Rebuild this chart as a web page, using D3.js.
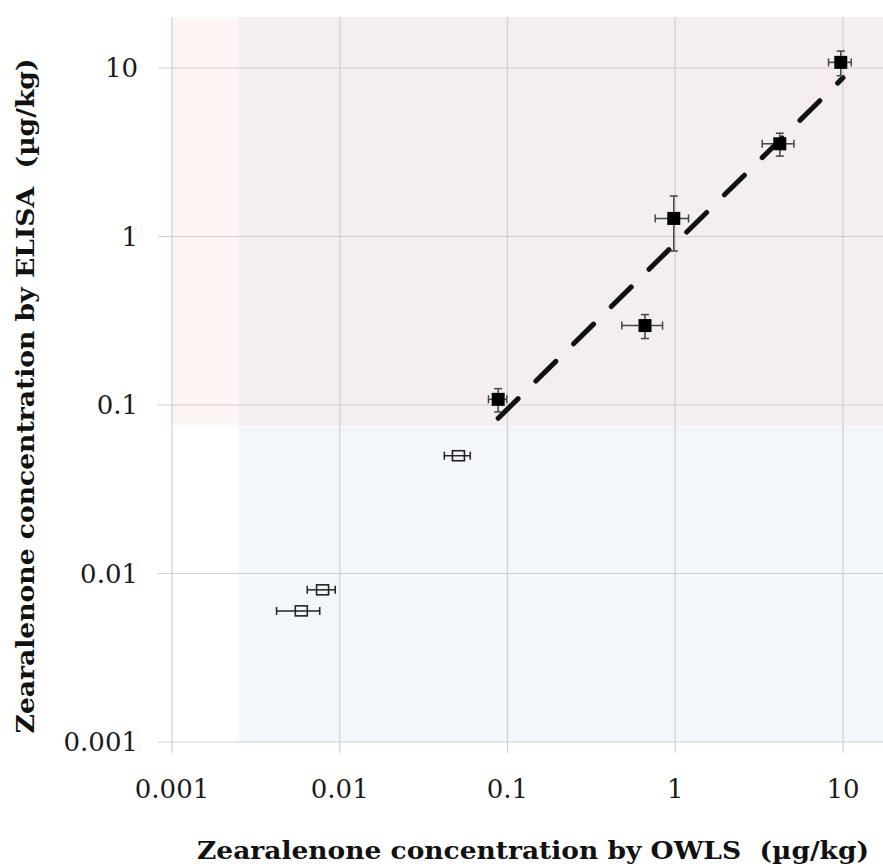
<!doctype html>
<html>
<head>
<meta charset="utf-8">
<title>Zearalenone OWLS vs ELISA</title>
<script src="https://cdn.jsdelivr.net/npm/d3@7"></script>
<style>
  body { margin: 0; background: #fff; }
  svg { display: block; }
  .serif { font-family: 'DejaVu Serif', serif; }
</style>
</head>
<body>
<script>

    // detected samples (filled squares)
    var owlsPos = [0.088, 0.66, 0.98, 4.2, 9.7];
    var owlsPosErr = [0.011, 0.18, 0.22, 0.9, 1.5];
    var elisaPos = [0.108, 0.296, 1.28, 3.55, 10.8];
    var elisaPosErr = [0.017, 0.048, 0.46, 0.55, 1.8];

    // below ELISA limit (open squares)
    var owlsLow = [0.051, 0.0079, 0.0059];
    var owlsLowErr = [0.009, 0.0015, 0.0017];
    var elisaLow = [0.050, 0.0080, 0.0060];

    // fitted line end points
    var fitX = [0.088, 10];
    var fitY = [0.0834, 8.75];

    // shaded zones
    var owlsLimit = 0.0025;
    var elisaLimit = 0.076;

    var tickValues = [0.001, 0.01, 0.1, 1, 10];
    var tickLabels = ["0.001", "0.01", "0.1", "1", "10"];

    var W = 883, H = 866;
    var padLeft = 172, padRight = 883, padTop = 17, padBottom = 742;

    var x = d3.scaleLog().domain([0.001, 10]).range([172, 843]);
    var y = d3.scaleLog().domain([0.001, 10]).range([742, 68]);
    var xMax = x.invert(padRight), yMax = y.invert(padTop);

    var svg = d3.select("body").append("svg")
        .attr("width", W)
        .attr("height", H);

    // background zones
    svg.append("rect")
        .attr("x", x(0.001)).attr("y", y(yMax))
        .attr("width", x(owlsLimit) - x(0.001))
        .attr("height", y(elisaLimit) - y(yMax))
        .attr("fill", "#fdf4f4");
    svg.append("rect")
        .attr("x", x(owlsLimit)).attr("y", y(yMax))
        .attr("width", x(xMax) - x(owlsLimit))
        .attr("height", y(elisaLimit) - y(yMax))
        .attr("fill", "#f5eef1");
    svg.append("rect")
        .attr("x", x(owlsLimit)).attr("y", y(elisaLimit))
        .attr("width", x(xMax) - x(owlsLimit))
        .attr("height", y(0.001) - y(elisaLimit))
        .attr("fill", "#f3f7fc");

    // grid (with tick stubs outside the plot)
    svg.append("g").selectAll("line").data(tickValues).enter().append("line")
        .attr("x1", function(d) { return x(d); })
        .attr("x2", function(d) { return x(d); })
        .attr("y1", padTop)
        .attr("y2", padBottom + 11)
        .attr("stroke", "#cfcfcf")
        .attr("stroke-width", 1.2);
    svg.append("g").selectAll("line").data(tickValues).enter().append("line")
        .attr("y1", function(d) { return y(d); })
        .attr("y2", function(d) { return y(d); })
        .attr("x1", padLeft - 14)
        .attr("x2", padRight)
        .attr("stroke", "#cfcfcf")
        .attr("stroke-width", 1.2);

    // tick labels
    svg.append("g").selectAll("text").data(tickValues).enter().append("text")
        .attr("class", "serif")
        .attr("x", function(d) { return x(d); })
        .attr("y", 798)
        .attr("text-anchor", "middle")
        .attr("font-size", "26px")
        .attr("fill", "#1a1a1a")
        .text(function(d, i) { return tickLabels[i]; });
    svg.append("g").selectAll("text").data(tickValues).enter().append("text")
        .attr("class", "serif")
        .attr("x", 138)
        .attr("y", function(d) { return y(d) + 9; })
        .attr("text-anchor", "end")
        .attr("font-size", "26px")
        .attr("fill", "#1a1a1a")
        .text(function(d, i) { return tickLabels[i]; });

    // axis titles
    svg.append("text")
        .attr("class", "serif")
        .attr("x", 533)
        .attr("y", 859)
        .attr("text-anchor", "middle")
        .attr("font-size", "25px")
        .attr("font-weight", "bold")
        .attr("fill", "#111")
        .attr("textLength", 672)
        .attr("lengthAdjust", "spacingAndGlyphs")
        .style("white-space", "pre")
        .text("Zearalenone concentration by OWLS  (µg/kg)");
    svg.append("text")
        .attr("class", "serif")
        .attr("transform", "translate(34,396) rotate(-90)")
        .attr("text-anchor", "middle")
        .attr("font-size", "25px")
        .attr("font-weight", "bold")
        .attr("fill", "#111")
        .attr("textLength", 675)
        .attr("lengthAdjust", "spacingAndGlyphs")
        .style("white-space", "pre")
        .text("Zearalenone concentration by ELISA  (µg/kg)");

    // fitted line
    svg.append("line")
        .attr("x1", x(fitX[0])).attr("y1", y(fitY[0]))
        .attr("x2", x(fitX[1])).attr("y2", y(fitY[1]))
        .attr("stroke", "#111")
        .attr("stroke-width", 5)
        .attr("stroke-linecap", "round")
        .attr("stroke-dasharray", "28,25");

    var cap = 4;

    function errorBars(g, xs, xe, ys, ye, color) {
        xs.forEach(function(xv, i) {
            var cx = x(xv), cy = y(ys[i]);
            var x0 = x(xv - xe[i]), x1 = x(xv + xe[i]);
            g.append("line").attr("x1", x0).attr("x2", x1).attr("y1", cy).attr("y2", cy)
                .attr("stroke", color).attr("stroke-width", 1.5);
            g.append("line").attr("x1", x0).attr("x2", x0).attr("y1", cy - cap).attr("y2", cy + cap)
                .attr("stroke", color).attr("stroke-width", 1.5);
            g.append("line").attr("x1", x1).attr("x2", x1).attr("y1", cy - cap).attr("y2", cy + cap)
                .attr("stroke", color).attr("stroke-width", 1.5);
            if (ye) {
                var y0 = y(ys[i] - ye[i]), y1 = y(ys[i] + ye[i]);
                g.append("line").attr("x1", cx).attr("x2", cx).attr("y1", y0).attr("y2", y1)
                    .attr("stroke", color).attr("stroke-width", 1.5);
                g.append("line").attr("x1", cx - cap).attr("x2", cx + cap).attr("y1", y0).attr("y2", y0)
                    .attr("stroke", color).attr("stroke-width", 1.5);
                g.append("line").attr("x1", cx - cap).attr("x2", cx + cap).attr("y1", y1).attr("y2", y1)
                    .attr("stroke", color).attr("stroke-width", 1.5);
            }
        });
    }

    var gErr = svg.append("g");
    errorBars(gErr, owlsPos, owlsPosErr, elisaPos, elisaPosErr, "#444");
    errorBars(gErr, owlsLow, owlsLowErr, elisaLow, null, "#222");

    // markers
    svg.append("g").selectAll("rect").data(owlsPos).enter().append("rect")
        .attr("x", function(d) { return x(d) - 6.5; })
        .attr("y", function(d, i) { return y(elisaPos[i]) - 6.5; })
        .attr("width", 13)
        .attr("height", 13)
        .attr("fill", "#000");

    svg.append("g").selectAll("rect").data(owlsLow).enter().append("rect")
        .attr("x", function(d) { return x(d) - 6; })
        .attr("y", function(d, i) { return y(elisaLow[i]) - 5; })
        .attr("width", 12)
        .attr("height", 10)
        .attr("fill", "none")
        .attr("stroke", "#222")
        .attr("stroke-width", 1.6);

</script>
</body>
</html>
